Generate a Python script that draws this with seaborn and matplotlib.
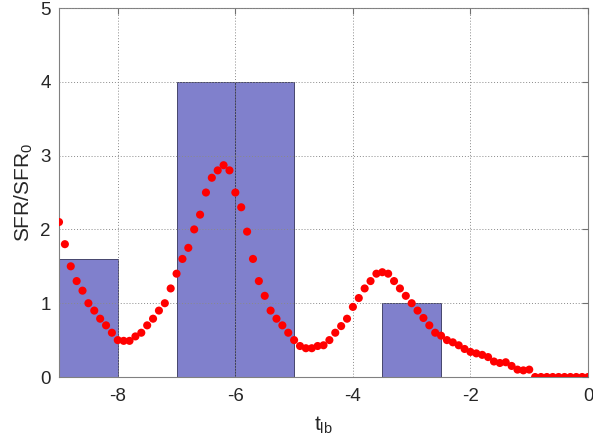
import matplotlib
matplotlib.use("Agg")
import matplotlib.pyplot as plt
import seaborn as sns
import pandas as pd

# ---- data ----
bar_centers = [-8.5, -6.5, -5.5, -3.0]
bar_heights = [1.6, 4.0, 4.0, 1.0]

t_lb = [-9.0, -8.9, -8.8, -8.7, -8.6, -8.5, -8.4, -8.3, -8.2, -8.1,
        -8.0, -7.9, -7.8, -7.7, -7.6, -7.5, -7.4, -7.3, -7.2, -7.1,
        -7.0, -6.9, -6.8, -6.7, -6.6, -6.5, -6.4, -6.3, -6.2, -6.1,
        -6.0, -5.9, -5.8, -5.7, -5.6, -5.5, -5.4, -5.3, -5.2, -5.1,
        -5.0, -4.9, -4.8, -4.7, -4.6, -4.5, -4.4, -4.3, -4.2, -4.1,
        -4.0, -3.9, -3.8, -3.7, -3.6, -3.5, -3.4, -3.3, -3.2, -3.1,
        -3.0, -2.9, -2.8, -2.7, -2.6, -2.5, -2.4, -2.3, -2.2, -2.1,
        -2.0, -1.9, -1.8, -1.7, -1.6, -1.5, -1.4, -1.3, -1.2, -1.1,
        -1.0, -0.9, -0.8, -0.7, -0.6, -0.5, -0.4, -0.3, -0.2, -0.1,
        0.0]
sfr = [2.10, 1.80, 1.50, 1.30, 1.17, 1.00, 0.90, 0.79, 0.70, 0.60,
       0.50, 0.49, 0.49, 0.55, 0.60, 0.70, 0.79, 0.90, 1.00, 1.20,
       1.40, 1.60, 1.75, 2.00, 2.20, 2.50, 2.70, 2.80, 2.87, 2.80,
       2.50, 2.30, 1.97, 1.60, 1.30, 1.10, 0.90, 0.79, 0.70, 0.60,
       0.50, 0.42, 0.39, 0.39, 0.42, 0.43, 0.50, 0.60, 0.69, 0.79,
       0.95, 1.07, 1.20, 1.30, 1.40, 1.42, 1.40, 1.30, 1.20, 1.10,
       1.00, 0.90, 0.80, 0.70, 0.60, 0.56, 0.50, 0.47, 0.43, 0.38,
       0.34, 0.32, 0.30, 0.27, 0.21, 0.19, 0.20, 0.15, 0.10, 0.09,
       0.10, 0.0, 0.0, 0.0, 0.0, 0.0, 0.0, 0.0, 0.0, 0.0,
       0.0]

x_ticks = [-8, -6, -4, -2, 0]
y_ticks = [0, 1, 2, 3, 4, 5]

sns.set_style("white")
plt.rcParams["font.family"] = ["Liberation Sans", "DejaVu Sans"]
plt.rcParams["mathtext.fontset"] = "custom"
plt.rcParams["mathtext.rm"] = "Liberation Sans"
plt.rcParams["mathtext.it"] = "Liberation Sans"

fig = plt.figure(figsize=(5.93, 4.46), dpi=100)
ax = fig.add_axes([0.0995, 0.1547, 0.8921, 0.8273])

bars = pd.DataFrame({"t": bar_centers, "h": bar_heights})
sns.barplot(data=bars, x="t", y="h", native_scale=True, width=1.0,
            color="#8080cc", saturation=1, edgecolor="#33335a",
            linewidth=0.6, errorbar=None, ax=ax)

pts = pd.DataFrame({"t": t_lb, "sfr": sfr})
sns.scatterplot(data=pts, x="t", y="sfr", color="#ff0000", s=34,
                edgecolor="none", zorder=4, ax=ax)

ax.set_xlim(-9, 0)
ax.set_ylim(0, 5)
ax.set_xticks(x_ticks)
ax.set_yticks(y_ticks)
ax.set_xticklabels([str(v) for v in x_ticks])
ax.set_yticklabels([str(v) for v in y_ticks])
ax.set_axisbelow(False)
ax.grid(True, linestyle=(0, (1, 2)), color="#8a8a8a", linewidth=0.7)
ax.tick_params(direction="in", top=True, right=True, length=4,
               labelsize=13.5, color="#707070")
ax.tick_params(axis="x", pad=8)
ax.tick_params(axis="y", pad=6)
for s in ax.spines.values():
    s.set_color("#808080")
    s.set_linewidth(0.8)

ax.set_xlabel(r"t$_\mathregular{lb}$", fontsize=15, labelpad=7)
ax.set_ylabel(r"SFR/SFR$_\mathregular{0}$", fontsize=15, labelpad=4)

fig.savefig("out.png", dpi=100)
